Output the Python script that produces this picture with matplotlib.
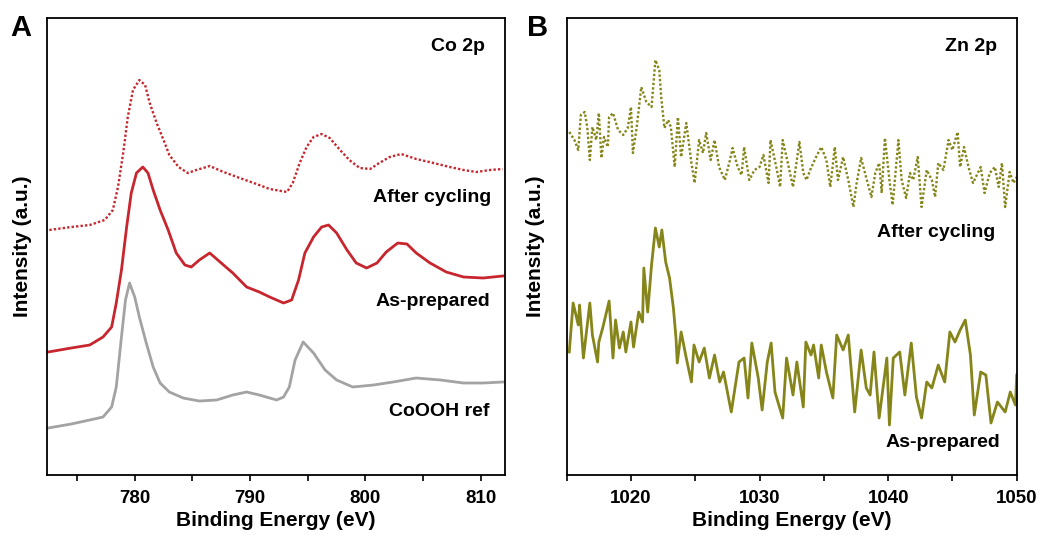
import matplotlib
matplotlib.use("Agg")
import matplotlib.pyplot as plt
from matplotlib.ticker import MultipleLocator, NullFormatter

plt.rcParams['font.family'] = ['Liberation Sans', 'DejaVu Sans']
plt.rcParams['font.weight'] = 'bold'

######################## data ################################
# Co 2p (panel A), intensities in arbitrary units (curves already offset)
co_after_x = [772.6, 774.5, 776.1, 777.4, 778.1, 778.55, 779.0, 779.4, 779.85, 780.4, 780.9, 781.3,
              781.9, 782.5, 783.0, 783.8, 784.6, 785.35, 786.5, 787.7, 789.1, 790.55, 791.7, 793.2,
              793.7, 794.3, 794.9, 795.5, 796.2, 796.9, 797.8, 798.6, 799.5, 800.4, 801.2, 802.1,
              803.1, 804.4, 805.9, 807.3, 808.5, 809.6, 810.8, 811.9]
co_after_y = [245, 248, 250, 255, 265, 288, 322, 358, 385, 395, 390, 372,
              352, 335, 320, 308, 302, 305, 309, 303, 297, 291, 286, 283,
              292, 312, 328, 338, 341, 337, 325, 315, 307, 306, 312, 318,
              321, 316, 312, 308, 305, 303, 305, 306]

co_prep_x = [772.5, 774.5, 776.1, 777.25, 778.0, 778.4, 778.85, 779.3, 779.7, 780.15, 780.7, 781.15,
             781.6, 782.2, 782.9, 783.6, 784.35, 784.9, 785.6, 786.5, 787.4, 788.5, 789.7, 790.8,
             791.7, 792.9, 793.6, 794.2, 794.75, 795.5, 796.2, 796.8, 797.5, 798.4, 799.2, 800.1,
             801.0, 801.8, 802.8, 803.6, 804.4, 805.6, 807.0, 808.5, 810.2, 811.9]
co_prep_y = [123, 127, 130, 138, 148, 172, 205, 248, 282, 302, 308, 302,
             285, 265, 245, 222, 210, 208, 215, 222, 213, 202, 188, 183,
             178, 172, 175, 195, 222, 238, 248, 250, 242, 225, 212, 207,
             212, 223, 232, 231, 222, 212, 203, 198, 197, 199]

co_ref_x = [772.5, 774.5, 776.1, 777.25, 778.0, 778.4, 778.85, 779.2, 779.55, 780.0, 780.4, 781.0,
            781.6, 782.2, 783.0, 784.2, 785.6, 787.1, 788.5, 789.7, 790.8, 792.3, 792.9, 793.4,
            793.9, 794.6, 795.5, 796.5, 797.5, 798.9, 800.7, 802.4, 804.4, 806.5, 808.5, 810.2,
            811.9]
co_ref_y = [47, 51, 55, 58, 68, 88, 138, 175, 192, 178, 158, 132,
            108, 92, 83, 77, 74, 75, 80, 83, 80, 75, 78, 88,
            115, 133, 122, 105, 95, 88, 90, 93, 97, 95, 92, 92,
            93]

# Zn 2p (panel B)
zn_after_x = [1015.2, 1015.6, 1015.9, 1016.1, 1016.4, 1016.6, 1016.8, 1017.0, 1017.3, 1017.5,
              1017.7, 1017.9, 1018.2, 1018.3, 1018.6, 1019.0, 1019.4, 1019.75, 1020.0, 1020.15,
              1020.45, 1020.8, 1021.2, 1021.6, 1021.9, 1022.2, 1022.35, 1022.6, 1022.9, 1023.1,
              1023.4, 1023.65, 1023.9, 1024.3, 1024.7, 1024.95, 1025.3, 1025.6, 1025.85, 1026.2,
              1026.5, 1026.85, 1027.3, 1027.7, 1027.9, 1028.3, 1028.6, 1028.8, 1029.2, 1029.6,
              1030.0, 1030.3, 1030.7, 1030.85, 1031.3, 1031.6, 1031.8, 1032.2, 1032.6, 1033.1,
              1033.4, 1033.65, 1034.0, 1034.4, 1034.8, 1035.2, 1035.5, 1035.85, 1036.1, 1036.5,
              1036.9, 1037.3, 1037.55, 1037.9, 1038.2, 1038.7, 1039.0, 1039.3, 1039.5, 1039.75,
              1040.1, 1040.35, 1040.8, 1041.05, 1041.4, 1041.7, 1041.95, 1042.3, 1042.6, 1043.0,
              1043.4, 1043.65, 1043.9, 1044.3, 1044.7, 1045.0, 1045.4, 1045.6, 1045.9, 1046.25,
              1046.6, 1047.2, 1047.5, 1047.9, 1048.3, 1048.6, 1048.85, 1049.1, 1049.45, 1049.75,
              1050.0]
zn_after_y = [343, 335, 325, 360, 363, 348, 315, 348, 335, 362,
              317, 338, 328, 358, 362, 345, 340, 347, 368, 322,
              348, 388, 373, 368, 415, 405, 378, 347, 355, 348,
              308, 358, 318, 352, 312, 292, 335, 322, 342, 315,
              335, 308, 295, 315, 327, 308, 300, 328, 295, 305,
              308, 320, 292, 335, 308, 288, 335, 312, 288, 333,
              302, 295, 307, 318, 328, 315, 288, 328, 295, 318,
              295, 268, 292, 317, 302, 278, 302, 312, 282, 337,
              295, 270, 335, 295, 277, 302, 295, 318, 268, 305,
              295, 278, 312, 305, 335, 325, 343, 308, 328, 308,
              292, 308, 282, 302, 308, 288, 312, 268, 303, 292,
              298]

zn_prep_x = [1015.2, 1015.5, 1015.9, 1016.0, 1016.3, 1016.8, 1017.0, 1017.4, 1017.5, 1017.8,
             1018.3, 1018.6, 1018.8, 1019.1, 1019.4, 1019.6, 1020.0, 1020.2, 1020.6, 1020.9,
             1021.0, 1021.3, 1021.6, 1021.9, 1022.2, 1022.4, 1022.7, 1023.0, 1023.3, 1023.5,
             1023.6, 1023.9, 1024.3, 1024.7, 1024.9, 1025.3, 1025.7, 1026.1, 1026.5, 1026.9,
             1027.2, 1027.8, 1028.4, 1028.8, 1029.1, 1029.4, 1029.9, 1030.2, 1030.6, 1030.9,
             1031.2, 1031.8, 1032.1, 1032.6, 1032.9, 1033.4, 1033.6, 1034.0, 1034.2, 1034.6,
             1034.8, 1035.2, 1035.7, 1036.0, 1036.5, 1036.9, 1037.4, 1037.9, 1038.3, 1038.6,
             1038.9, 1039.3, 1039.9, 1040.1, 1040.4, 1040.9, 1041.3, 1041.8, 1042.2, 1042.6,
             1043.0, 1043.4, 1043.9, 1044.4, 1044.8, 1045.2, 1045.6, 1046.0, 1046.4, 1046.7,
             1047.2, 1047.6, 1048.0, 1048.5, 1049.1, 1049.5, 1049.9, 1050.0]
zn_prep_y = [123, 172, 150, 170, 117, 172, 140, 113, 133, 147,
             174, 117, 155, 127, 143, 123, 153, 128, 163, 153,
             207, 163, 210, 247, 228, 245, 213, 197, 167, 137,
             112, 143, 117, 93, 130, 113, 127, 97, 120, 93,
             103, 63, 113, 117, 77, 132, 97, 65, 113, 132,
             83, 57, 117, 80, 113, 68, 133, 120, 130, 97,
             130, 103, 77, 140, 125, 140, 63, 125, 87, 80,
             123, 57, 117, 50, 117, 123, 80, 132, 78, 57,
             93, 87, 110, 93, 143, 133, 145, 155, 120, 60,
             103, 100, 52, 73, 63, 83, 70, 100]

red = '#c8262e'
grey = '#a3a3a3'
olive = '#85851a'

######################## figure ################################
fig = plt.figure(figsize=(10.5, 5.42), dpi=100)
axA = fig.add_axes([0.0448, 0.1236, 0.4362, 0.8432])
axB = fig.add_axes([0.5397, 0.1236, 0.4286, 0.8432])

# panel A
axA.plot(co_after_x, co_after_y, color=red, lw=1.7, linestyle=(0, (1, 0.9)))
axA.plot(co_prep_x, co_prep_y, color=red, lw=2.0)
axA.plot(co_ref_x, co_ref_y, color=grey, lw=2.0)
axA.set_xlim(772.4, 812.1)
axA.xaxis.set_major_locator(MultipleLocator(10))
axA.xaxis.set_minor_locator(MultipleLocator(5))

axA.text(0.956, 0.937, 'Co 2p', transform=axA.transAxes, ha='right', va='center', fontsize=14, fontweight='bold')
axA.text(0.969, 0.608, 'After cycling', transform=axA.transAxes, ha='right', va='center', fontsize=14, fontweight='bold')
axA.text(0.967, 0.379, 'As-prepared', transform=axA.transAxes, ha='right', va='center', fontsize=14, fontweight='bold')
axA.text(0.967, 0.140, 'CoOOH ref', transform=axA.transAxes, ha='right', va='center', fontsize=14, fontweight='bold')

# panel B
axB.plot(zn_after_x, zn_after_y, color=olive, lw=1.7, linestyle=(0, (1, 0.9)))
axB.plot(zn_prep_x, zn_prep_y, color=olive, lw=2.0)
axB.set_xlim(1015, 1050)
axB.xaxis.set_major_locator(MultipleLocator(10))
axB.xaxis.set_minor_locator(MultipleLocator(5))

axB.text(0.956, 0.937, 'Zn 2p', transform=axB.transAxes, ha='right', va='center', fontsize=14, fontweight='bold')
axB.text(0.952, 0.530, 'After cycling', transform=axB.transAxes, ha='right', va='center', fontsize=14, fontweight='bold')
axB.text(0.963, 0.072, 'As-prepared', transform=axB.transAxes, ha='right', va='center', fontsize=14, fontweight='bold')

# common styling
for ax, ylx in [(axA, -0.033), (axB, -0.048)]:
    ax.set_ylim(0, 457)
    ax.set_yticks([])
    ax.tick_params(axis='x', which='both', direction='out', length=4, width=1.2,
                   labelsize=13.5, pad=7, top=False)
    ax.xaxis.set_minor_formatter(NullFormatter())
    for side in ax.spines.values():
        side.set_linewidth(1.3)
    ax.set_xlabel('Binding Energy (eV)', fontsize=15, fontweight='bold', labelpad=3)
    ax.set_ylabel('Intensity (a.u.)', fontsize=15, fontweight='bold')
    ax.yaxis.set_label_coords(ylx, 0.5)
    for lab in ax.get_xticklabels():
        lab.set_fontweight('bold')

fig.text(21 / 1050, 1 - 28 / 542, 'A', ha='center', va='center', fontsize=21, fontweight='bold')
fig.text(538 / 1050, 1 - 28 / 542, 'B', ha='center', va='center', fontsize=21, fontweight='bold')

fig.savefig('out.png', dpi=100)
